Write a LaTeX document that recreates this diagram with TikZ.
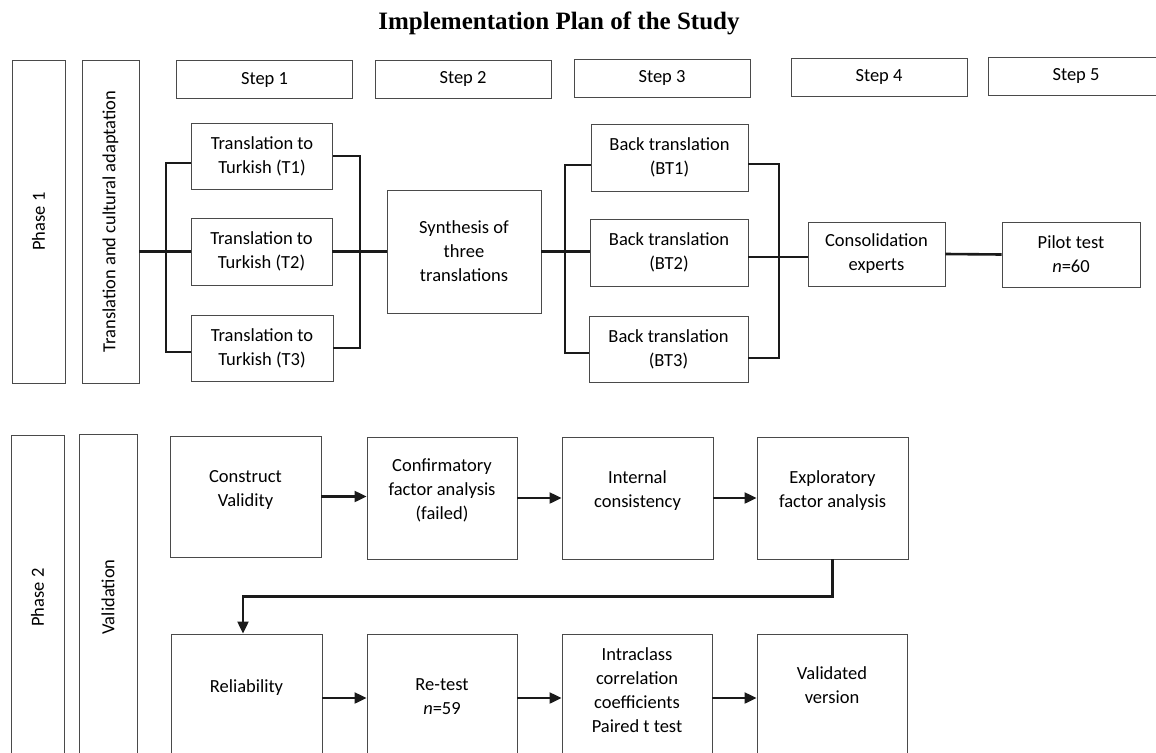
\documentclass[tikz,border=0pt]{standalone}
\usepackage{fontspec}
\setmainfont{Carlito}
\newfontfamily\titlefont{Liberation Serif}
\usetikzlibrary{arrows.meta}

\definecolor{boxgray}{HTML}{4A4A4A}
\definecolor{linkblack}{HTML}{1A1A1A}

\tikzset{
  box/.style={draw=boxgray, line width=0.9pt, inner sep=2pt, align=center},
  stepbox/.style={box, minimum width=176pt, minimum height=38pt},
  link/.style={draw=linkblack, line width=2pt},
  mainlink/.style={draw=linkblack, line width=2.6pt},
  flow/.style={draw=linkblack, line width=2.2pt, -{Triangle[length=12pt,width=11pt]}},
}

\begin{document}
\begin{tikzpicture}[x=1pt, y=-1pt, font=\fontsize{18.5}{24}\selectfont]

        \useasboundingbox (0,0) rectangle (1156,752);

        % Title
        \node[anchor=base, font=\titlefont\bfseries\fontsize{25}{30}\selectfont] (title) at (559,30) {Implementation Plan of the Study};

        % Steps
        \node[stepbox] (s1) at (264.5,79.5) {Step 1};
        \node[stepbox] (s2) at (463,79) {Step 2};
        \node[stepbox] (s3) at (662,78) {Step 3};
        \node[stepbox] (s4) at (879,77) {Step 4};
        \node[stepbox, minimum width=184pt] (s5) at (1080,76) {\hspace*{-8pt}Step 5};

        % Phase 1 columns
        \node[box, minimum width=53pt, minimum height=323pt] (ph1) at (38.5,221.5) {\rotatebox{90}{Phase 1}};
        \node[box, minimum width=57pt, minimum height=323pt] (tca) at (110.5,221.5) {\rotatebox{90}{Translation and cultural adaptation}};

        % Forward translations
        \node[box, minimum width=141pt, minimum height=66pt] (t1) at (262,156) {Translation to\\Turkish (T1)};
        \node[box, minimum width=141pt, minimum height=67pt] (t2) at (261.5,251.5) {Translation to\\Turkish (T2)};
        \node[box, minimum width=142pt, minimum height=66pt] (t3) at (262,348) {Translation to\\Turkish (T3)};

        % Synthesis
        \node[box, minimum width=154pt, minimum height=123pt] (syn) at (464,251.5) {Synthesis of\\three\\translations};

        % Back translations
        \node[box, minimum width=157pt, minimum height=67pt] (bt1) at (669.5,157.5) {Back translation\\(BT1)};
        \node[box, minimum width=158pt, minimum height=67pt] (bt2) at (669,252.5) {Back translation\\(BT2)};
        \node[box, minimum width=159pt, minimum height=66pt] (bt3) at (668.5,349) {Back translation\\(BT3)};

        % Experts and pilot
        \node[box, minimum width=137pt, minimum height=64pt] (cons) at (876.5,254) {Consolidation\\experts};
        \node[box, minimum width=138pt, minimum height=65pt] (pilot) at (1071,254.5) {Pilot test\\\textit{n}=60};

        % Phase 1 connectors
        \coordinate (lb) at (166,0);
        \coordinate (rb) at (360,0);
        \coordinate (lb2) at (565,0);
        \coordinate (rb2) at (779,0);
        \coordinate (t1in) at ([yshift=-7pt]t1.west);
        \coordinate (t3in) at ([yshift=-4pt]t3.west);
        \coordinate (bt1in) at ([yshift=-7pt]bt1.west);
        \coordinate (bt3in) at ([yshift=-4pt]bt3.west);
        \coordinate (bt1out) at ([yshift=-6pt]bt1.east);
        \coordinate (bt2out) at ([yshift=-4.5pt]bt2.east);
        \coordinate (bt3out) at ([yshift=-9pt]bt3.east);

        \draw[mainlink] (tca.east |- t2.west) -- (t2.west);
        \draw[link] (t1in) -| (lb |- t3in) -- (t3in);
        \draw[link] (t1.east) -| (rb |- t3.east) -- (t3.east);
        \draw[mainlink] (t2.east) -- (syn.west);

        \draw[mainlink] (syn.east) -- (syn.east -| bt2.west);
        \draw[link] (bt1in) -| (lb2 |- bt3in) -- (bt3in);
        \draw[link] (bt1out) -| (rb2 |- bt3out) -- (bt3out);
        \draw[mainlink] (bt2out) -- (bt2out -| cons.west);
        \draw[mainlink] (cons.east) -- (pilot.west);

        % Phase 2 columns
        \node[box, minimum width=53pt, minimum height=325pt] (ph2) at (37.5,597.5) {\rotatebox{90}{Phase 2}};
        \node[box, minimum width=58pt, minimum height=326pt] (val) at (108,597) {\rotatebox{90}{Validation}};

        % Validation steps
        \node[box, minimum width=151pt, minimum height=121pt, label={[align=center, yshift=7pt]center:Construct\\Validity}] (cv) at (245.5,496.5) {};
        \node[box, minimum width=150pt, minimum height=122pt, label={[align=center, yshift=8pt]center:Confirmatory\\factor analysis\\(failed)}] (cfa) at (442,498) {};
        \node[box, minimum width=151pt, minimum height=122pt, label={[align=center, yshift=7pt]center:Internal\\consistency}] (ic) at (637.5,498) {};
        \node[box, minimum width=151pt, minimum height=122pt, label={[align=center, yshift=7pt]center:Exploratory\\factor analysis}] (efa) at (832.5,498) {};

        \node[box, minimum width=151pt, minimum height=128pt, label={[align=center, yshift=10pt]center:Reliability}] (rel) at (246.5,698) {};
        \node[box, minimum width=150pt, minimum height=128pt, label={[align=center, yshift=1.5pt]center:Re-test\\\textit{n}=59}] (rt) at (442,698) {};
        \node[box, minimum width=150pt, minimum height=128pt, label={[align=center, yshift=7.5pt]center:Intraclass\\correlation\\coefficients\\Paired t test}] (icc) at (637,698) {};
        \node[box, minimum width=150pt, minimum height=128pt, label={[align=center, yshift=12.5pt]center:Validated\\version}] (vv) at (832,698) {};

        % Phase 2 arrows
        \draw[flow] (cv.east) -- (cv.east -| cfa.west);
        \draw[flow] (cfa.east) -- (cfa.east -| ic.west);
        \draw[flow] (ic.east) -- (ic.east -| efa.west);

        \coordinate (relin) at ([xshift=-3.5pt]rel.north);
        \draw[flow] (efa.south) -- ++(0,37) -| (relin);

        \draw[flow] (rel.east) -- (rel.east -| rt.west);
        \draw[flow] (rt.east) -- (rt.east -| icc.west);
        \draw[flow] (icc.east) -- (icc.east -| vv.west);

    \end{tikzpicture}
\end{document}
